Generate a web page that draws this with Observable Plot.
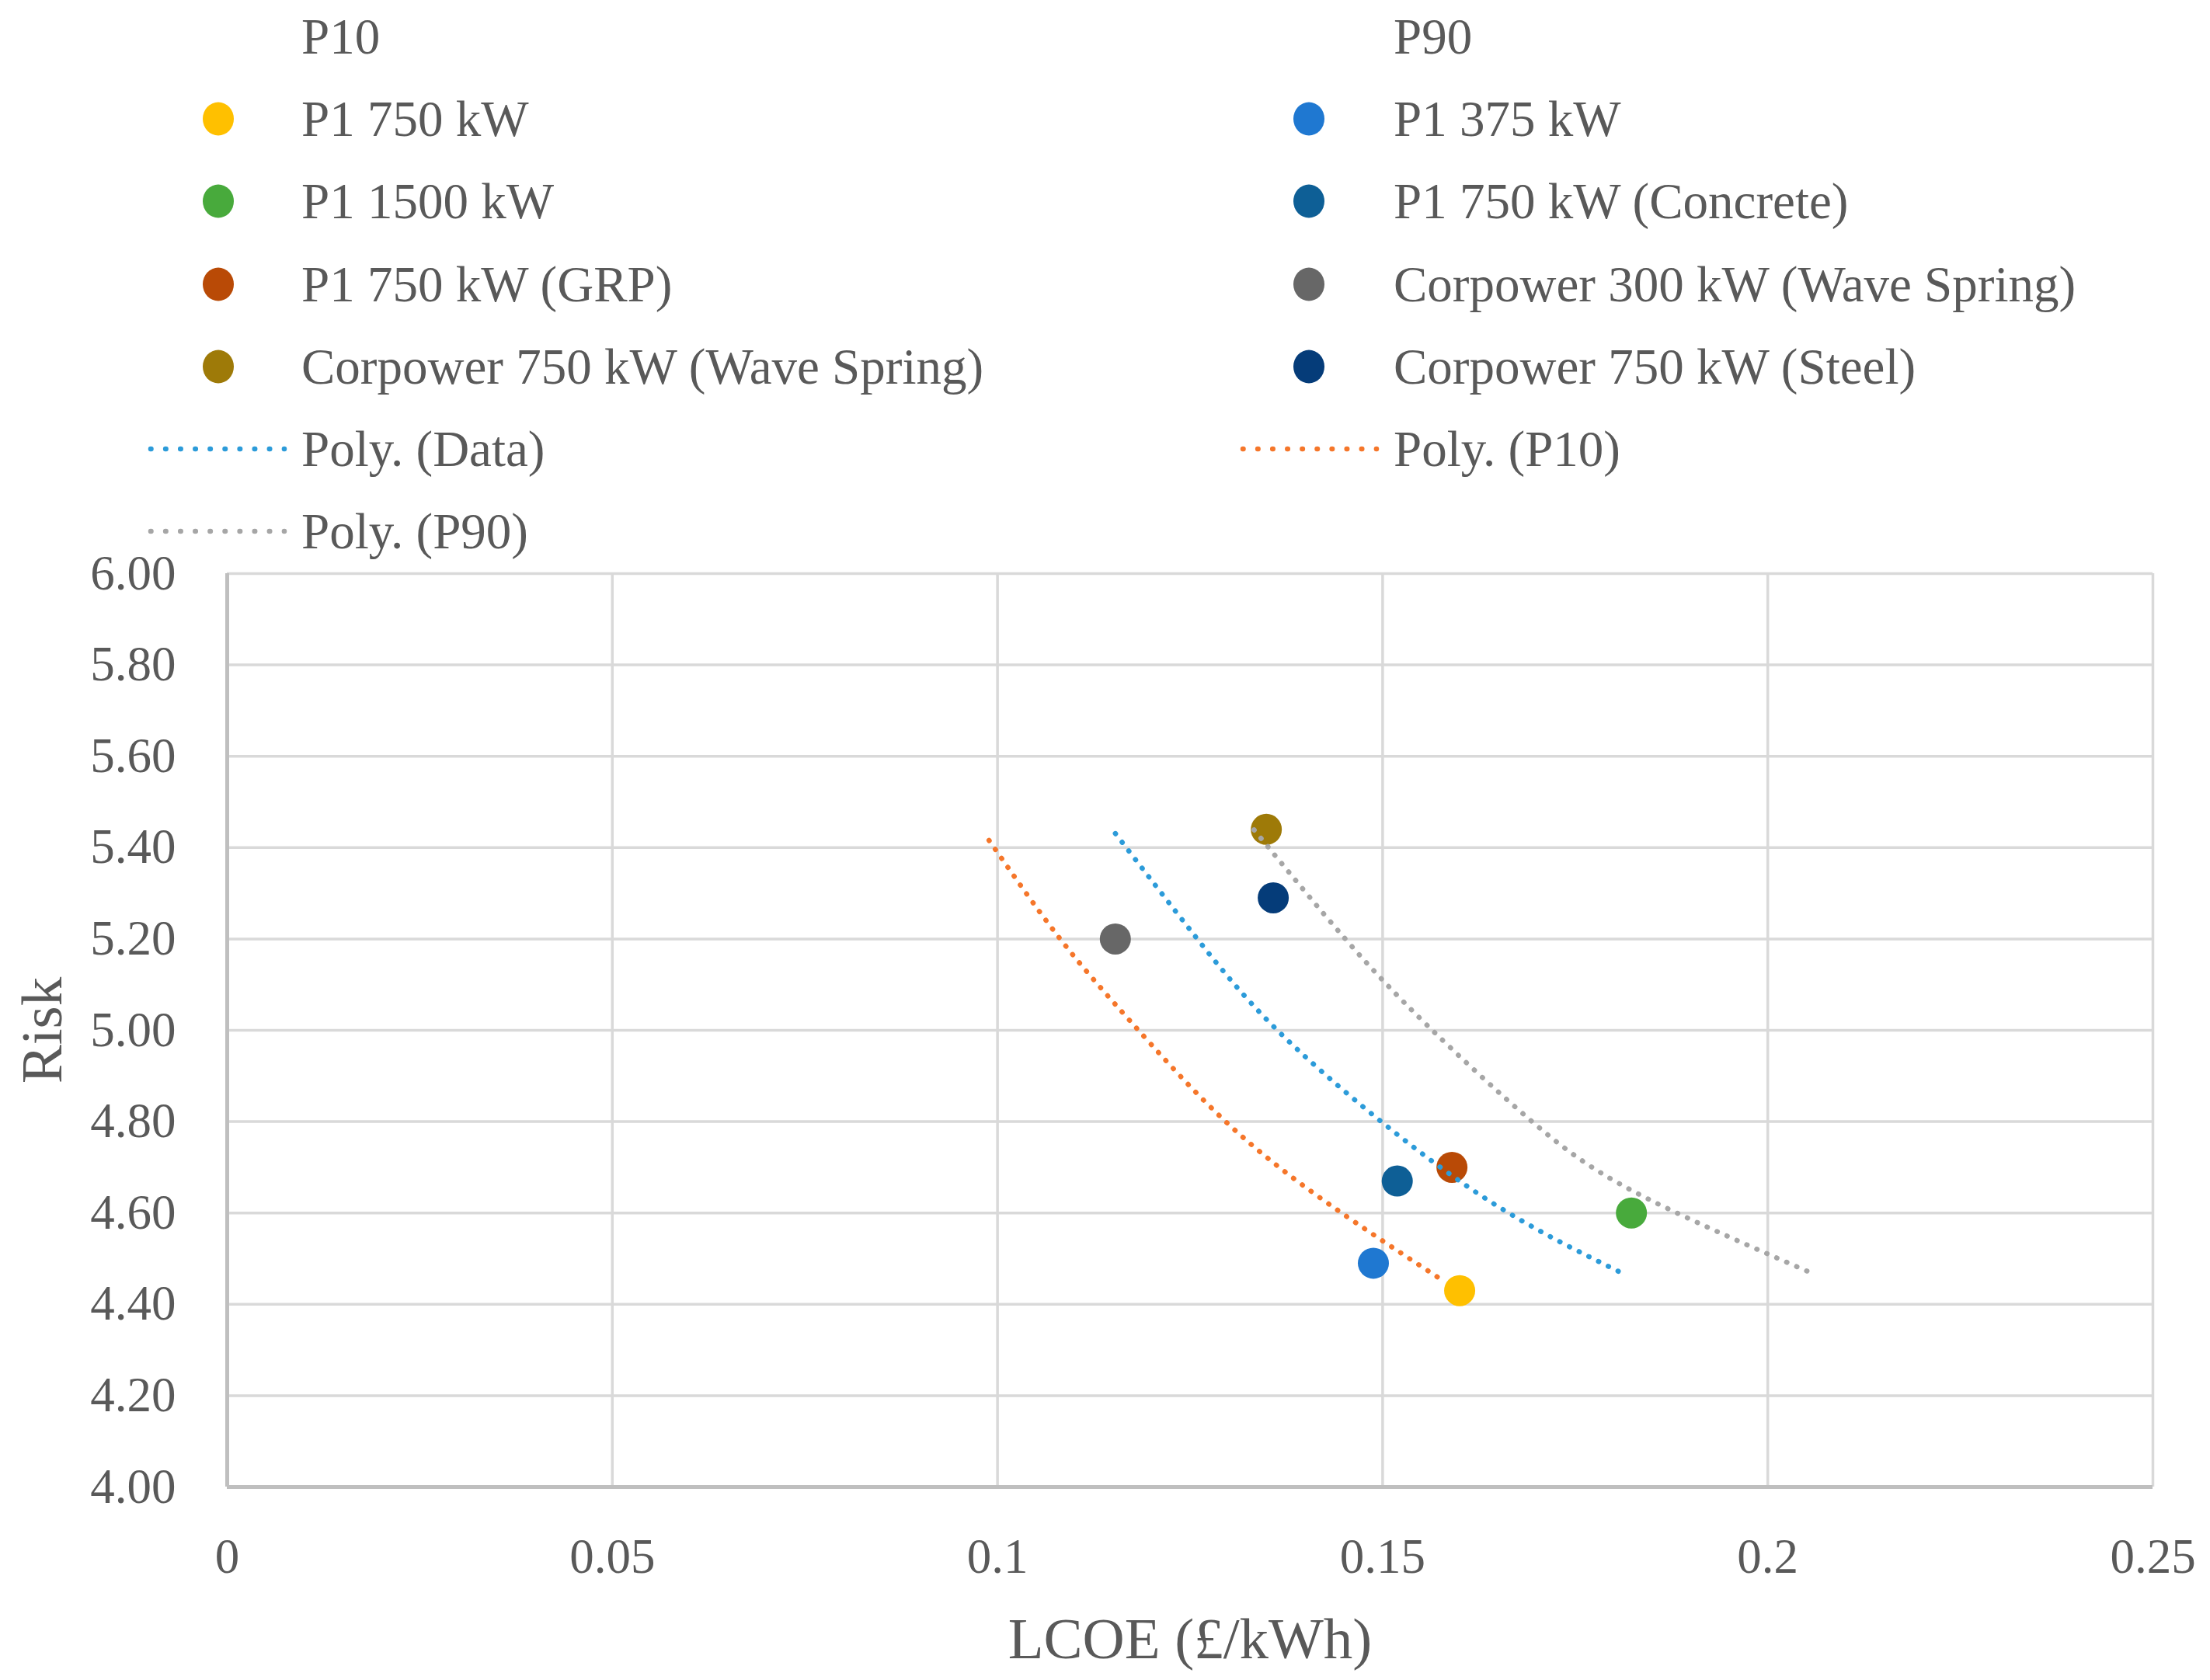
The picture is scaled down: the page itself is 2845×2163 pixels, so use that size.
<!DOCTYPE html>
<html lang="en">
<head>
<meta charset="UTF-8">
<script src="https://cdn.jsdelivr.net/npm/d3@7"></script>
<script src="https://cdn.jsdelivr.net/npm/@observablehq/plot@0.6"></script>
<style>
  body { margin: 0; background: #fff; }
  #chart { position: relative; width: 2845px; height: 2163px; font-family: "Liberation Serif", serif; color: #595959; }
  #legend { position: relative; height: 700px; }
  .txt { position: absolute; font-size: 65px; line-height: 64px; white-space: nowrap; }
  .sw { position: absolute; }
</style>
</head>
<body>
<div id="chart">
  <div id="legend"></div>
  <div id="plot"></div>
</div>
<script>
// scatter points, in legend order (row by row)
const seriesNames = ["P1 750 kW", "P1 375 kW", "P1 1500 kW", "P1 750 kW (Concrete)",
  "P1 750 kW (GRP)", "Corpower 300 kW (Wave Spring)", "Corpower 750 kW (Wave Spring)", "Corpower 750 kW (Steel)"];
const seriesLcoe = [0.160, 0.1488, 0.1823, 0.1519, 0.1590, 0.1153, 0.1349, 0.1358];
const seriesRisk = [4.43, 4.49, 4.60, 4.67, 4.70, 5.20, 5.44, 5.29];
const seriesColors = ["#FFC000", "#1F78D1", "#48AA3C", "#0E5F96", "#B94A06", "#676767", "#9E7A08", "#053C79"];

// polynomial trend lines
const trendNames = ["Poly. (Data)", "Poly. (P10)", "Poly. (P90)"];
const trendColors = ["#2C9BD9", "#F5762A", "#A6A6A6"];
const trendLcoe = [
  [0.1153, 0.1258, 0.1358, 0.1496, 0.1651, 0.1810],
  [0.0989, 0.1080, 0.1174, 0.1295, 0.1429, 0.1580],
  [0.1333, 0.1450, 0.1559, 0.1692, 0.1826, 0.2052]
];
const trendRisk = [
  [5.431, 5.203, 5.009, 4.803, 4.613, 4.469],
  [5.416, 5.203, 5.017, 4.802, 4.621, 4.450],
  [5.439, 5.203, 5.009, 4.803, 4.647, 4.472]
];

const xTicks = [0, 0.05, 0.1, 0.15, 0.2, 0.25];
const yTicks = [4, 4.2, 4.4, 4.6, 4.8, 5, 5.2, 5.4, 5.6, 5.8, 6];

// legend
const legendItems = [
  {label: "P10", kind: "none"}, {label: "P90", kind: "none"},
  ...seriesNames.map((label, i) => ({label, kind: "dot", color: seriesColors[i]})),
  ...trendNames.map((label, i) => ({label, kind: "line", color: trendColors[i]}))
];
const legend = document.querySelector("#legend");
const colText = [388, 1794], colMark = [281, 1685], colLine = [190, 1596];
legendItems.forEach((it, i) => {
  const col = i % 2, row = Math.floor(i / 2);
  const cy = 47 + row * 106.2;
  const t = document.createElement("div");
  t.className = "txt";
  t.style.left = colText[col] + "px";
  t.style.top = (cy - 32) + "px";
  t.textContent = it.label;
  legend.append(t);
  if (it.kind === "dot") {
    const s = d3.create("svg").attr("class", "sw").attr("width", 44).attr("height", 48)
      .style("left", (colMark[col] - 22) + "px").style("top", (cy - 24) + "px");
    s.append("ellipse").attr("cx", 22).attr("cy", 24).attr("rx", 20).attr("ry", 21.5).attr("fill", it.color);
    legend.append(s.node());
  } else if (it.kind === "line") {
    const s = d3.create("svg").attr("class", "sw").attr("width", 180).attr("height", 20)
      .style("left", colLine[col] + "px").style("top", (cy - 10) + "px");
    s.append("line").attr("x1", 4).attr("x2", 176).attr("y1", 10).attr("y2", 10)
      .attr("stroke", it.color).attr("stroke-width", 6.5).attr("stroke-linecap", "round")
      .attr("stroke-dasharray", "0.5 18.6");
    legend.append(s.node());
  }
});

const points = seriesNames.map((name, i) => ({name, lcoe: seriesLcoe[i], risk: seriesRisk[i], color: seriesColors[i]}));

const plot = Plot.plot({
  width: 2845,
  height: 1463,
  marginTop: 38,
  marginBottom: 249,
  marginLeft: 292,
  marginRight: 74,
  style: {fontFamily: "Liberation Serif", fontSize: "63px", color: "#595959", background: "white", overflow: "visible"},
  x: {domain: [0, 0.25]},
  y: {domain: [4, 6]},
  color: {type: "identity"},
  marks: [
    Plot.gridX(xTicks, {stroke: "#d9d9d9", strokeOpacity: 1, strokeWidth: 3.5}),
    Plot.gridY(yTicks, {stroke: "#d9d9d9", strokeOpacity: 1, strokeWidth: 3.5}),
    Plot.ruleX([0], {stroke: "#bfbfbf", strokeWidth: 5}),
    Plot.ruleY([4], {stroke: "#bfbfbf", strokeWidth: 5}),
    Plot.axisX(xTicks, {tickSize: 0, tickPadding: 66, tickFormat: d => String(d), label: null}),
    Plot.axisY(yTicks, {tickSize: 0, tickPadding: 66, tickFormat: d3.format(".2f"), label: null}),
    Plot.text(["LCOE (£/kWh)"], {frameAnchor: "bottom", lineAnchor: "middle", textAnchor: "middle", dy: 196, fontSize: 75}),
    Plot.text(["Risk"], {frameAnchor: "left", lineAnchor: "middle", textAnchor: "middle", dx: -238, rotate: -90, fontSize: 75}),
    Plot.dot(points, {x: "lcoe", y: "risk", r: 20, fill: "color"}),
    ...trendNames.map((name, k) => Plot.line(trendLcoe[k].map((x, j) => ({lcoe: x, risk: trendRisk[k][j]})), {
      x: "lcoe", y: "risk", stroke: trendColors[k], strokeWidth: 6.5, strokeLinecap: "round",
      strokeDasharray: "0.5 13.5", curve: "natural"
    }))
  ]
});
document.querySelector("#plot").append(plot);
</script>
</body>
</html>
